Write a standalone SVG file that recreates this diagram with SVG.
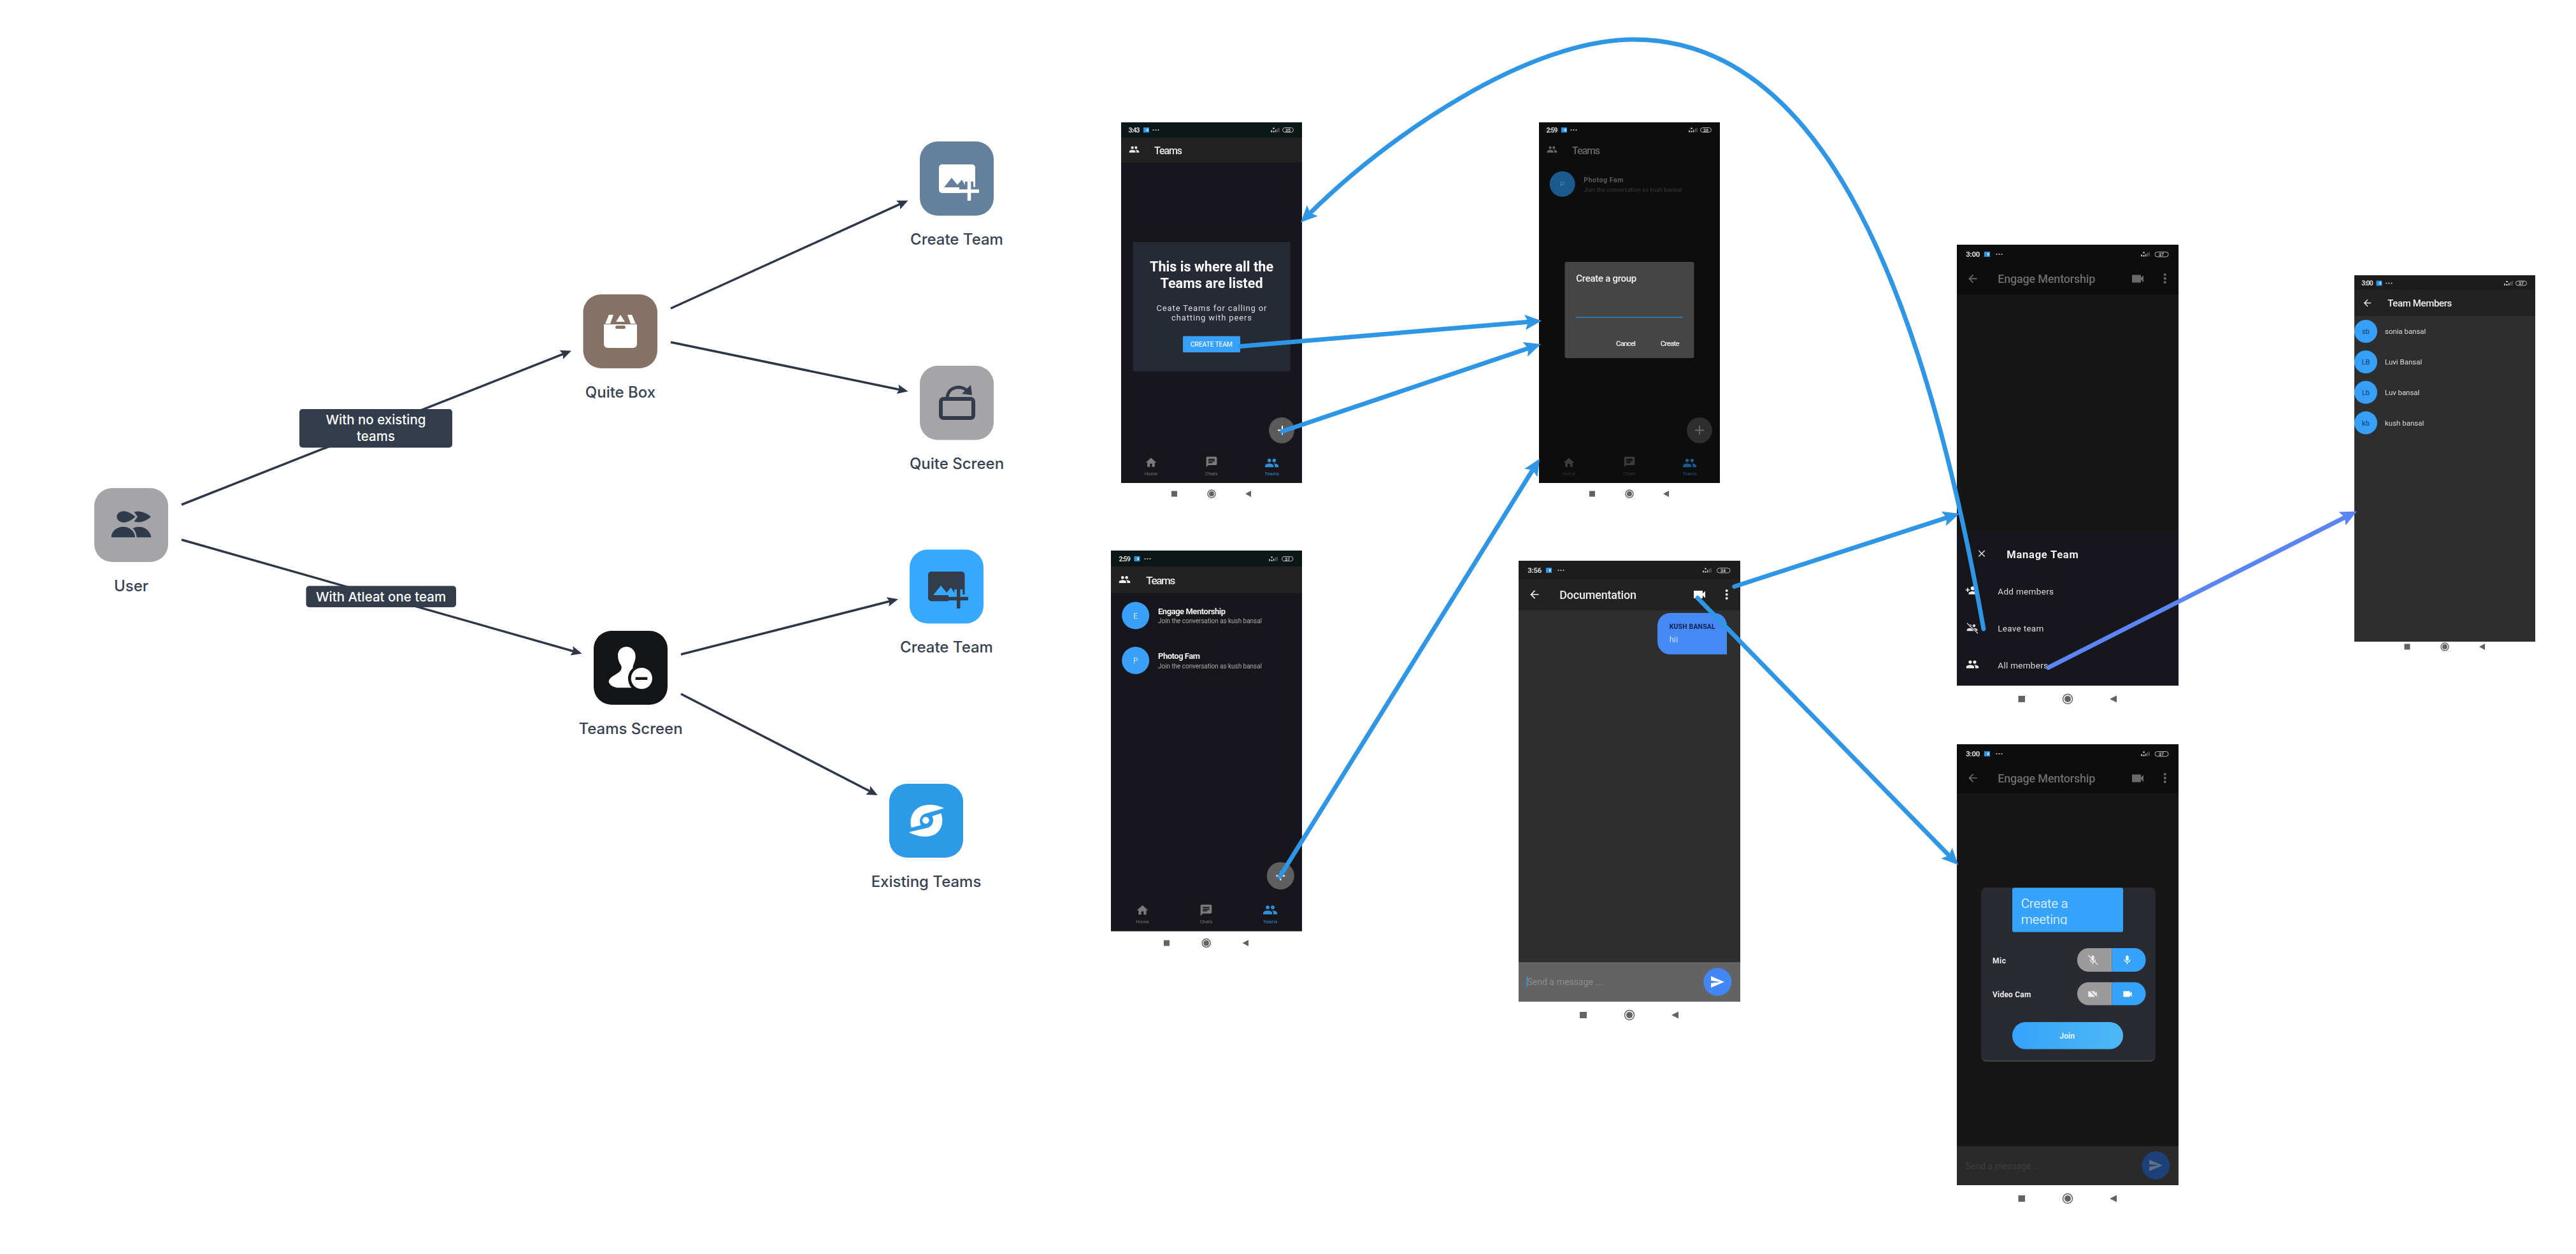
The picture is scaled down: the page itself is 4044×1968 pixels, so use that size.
<svg xmlns="http://www.w3.org/2000/svg" width="4044" height="1968" viewBox="0 0 4044 1968">
<style>
text{font-family:Roboto,"Liberation Sans",sans-serif}
.lbl{font-family:Inter,"Liberation Sans",sans-serif;font-size:24px;font-weight:500;fill:#374151;text-anchor:middle}
.tag{font-family:Inter,"Liberation Sans",sans-serif;font-size:20.500px;font-weight:500;fill:#fff;text-anchor:middle}
.dk{fill:none;stroke:#2d3748;stroke-width:3.5;marker-end:url(#mDark)}
.bl{fill:none;stroke:#2f96e6;stroke-width:7;stroke-linecap:round;marker-end:url(#mBlue)}
.pr{fill:none;stroke:#5b84f5;stroke-width:7;stroke-linecap:round;marker-end:url(#mPeri)}
.nv{fill:#646464}
.nvc{fill:none;stroke:#646464;stroke-width:1.5}
.t{font-weight:700;font-size:10.5px;fill:#ddd}
.bt{font-size:7px;font-weight:700;fill:#ccc;text-anchor:middle}
.bat{fill:none;stroke:#bbb;stroke-width:1}
.nl{font-size:7.5px;text-anchor:middle}
.sm{filter:url(#soft)}
</style>
<defs>
<filter id="soft" x="-5%" y="-5%" width="110%" height="110%"><feGaussianBlur stdDeviation="0.55"/></filter>
<marker id="mDark" markerUnits="userSpaceOnUse" markerWidth="20" markerHeight="18" refX="12" refY="9" orient="auto"><path d="M0,1.5 L17,9 L0,16.5 L3,9Z" fill="#2d3748"/></marker>
<marker id="mBlue" markerUnits="userSpaceOnUse" markerWidth="28" markerHeight="26" refX="14" refY="13" orient="auto"><path d="M0,1 L26,13 L0,25 L5,13Z" fill="#2f96e6"/></marker>
<marker id="mPeri" markerUnits="userSpaceOnUse" markerWidth="28" markerHeight="26" refX="14" refY="13" orient="auto"><path d="M0,1 L26,13 L0,25 L5,13Z" fill="#5b84f5"/></marker>
<symbol id="people" viewBox="0 0 24 24"><path fill="currentColor" d="M16 11c1.66 0 2.99-1.34 2.99-3S17.66 5 16 5c-1.66 0-3 1.34-3 3s1.34 3 3 3zm-8 0c1.66 0 2.99-1.34 2.99-3S9.66 5 8 5C6.34 5 5 6.34 5 8s1.34 3 3 3zm0 2c-2.33 0-7 1.17-7 3.5V19h14v-2.5c0-2.33-4.67-3.5-7-3.5zm8 0c-.29 0-.62.02-.97.05 1.16.84 1.97 1.97 1.97 3.45V19h6v-2.5c0-2.33-4.67-3.5-7-3.5z"/></symbol>
<symbol id="home" viewBox="0 0 24 24"><path fill="currentColor" d="M10 20v-6h4v6h5v-8h3L12 3 2 12h3v8z"/></symbol>
<symbol id="chat" viewBox="0 0 24 24"><path fill="currentColor" fill-rule="evenodd" d="M20 2H4c-1.1 0-2 .9-2 2v18l4-4h14c1.1 0 2-.9 2-2V4c0-1.1-.9-2-2-2zM6 9h12v2H6V9zm8 5H6v-2h8v2zm4-6H6V6h12v2z"/></symbol>
<symbol id="video" viewBox="0 0 24 24"><path fill="currentColor" d="M17 10.5V7c0-.55-.45-1-1-1H4c-.55 0-1 .45-1 1v10c0 .55.45 1 1 1h12c.55 0 1-.45 1-1v-3.5l4 4v-11l-4 4z"/></symbol>
<symbol id="send" viewBox="0 0 24 24"><path fill="currentColor" d="M2.01 21L23 12 2.01 3 2 10l15 2-15 2z"/></symbol>
<symbol id="mic" viewBox="0 0 24 24"><path fill="currentColor" d="M12 14c1.66 0 3-1.34 3-3V5c0-1.66-1.34-3-3-3S9 3.34 9 5v6c0 1.66 1.34 3 3 3zm5.3-3c0 3-2.54 5.1-5.3 5.1S6.7 14 6.7 11H5c0 3.41 2.72 6.23 6 6.72V21h2v-3.28c3.28-.48 6-3.3 6-6.72h-1.7z"/></symbol>
<symbol id="back" viewBox="0 0 24 24"><path fill="currentColor" d="M20 11H7.83l5.59-5.59L12 4l-8 8 8 8 1.41-1.41L7.83 13H20v-2z"/></symbol>
<symbol id="close" viewBox="0 0 24 24"><path fill="currentColor" d="M19 6.41L17.59 5 12 10.59 6.41 5 5 6.41 10.59 12 5 17.59 6.41 19 12 13.41 17.59 19 19 17.59 13.41 12z"/></symbol>
<symbol id="padd" viewBox="0 0 24 24"><path fill="currentColor" d="M15 12c2.21 0 4-1.79 4-4s-1.79-4-4-4-4 1.79-4 4 1.79 4 4 4zm-9-2V7H4v3H1v2h3v3h2v-3h3v-2H6zm9 4c-2.67 0-8 1.34-8 4v2h16v-2c0-2.66-5.33-4-8-4z"/></symbol>
<g id="app"><rect width="9" height="8" fill="#2f96e6"/><rect x="5" y="2" width="2.5" height="4" fill="#bfe0ff"/></g>
<g id="dots" fill="#ccc"><circle cx="1.5" cy="0" r="1.1"/><circle cx="5.5" cy="0" r="1.1"/><circle cx="9.5" cy="0" r="1.1"/></g>
<g id="signal" fill="#bbb"><rect x="0" y="4" width="2" height="3"/><rect x="3" y="0" width="3" height="2"/><rect x="3" y="5" width="3" height="2"/><rect x="7" y="3" width="1.6" height="4"/><rect x="10" y="1" width="1.4" height="6" opacity=".5"/><rect x="12.4" y="0" width="1.2" height="7" opacity=".5"/></g>
<clipPath id="clipMeet"><rect x="3159" y="1393" width="174" height="58"/></clipPath>
<clipPath id="clipT1"><rect x="3261" y="1488" width="107.500" height="37" rx="18"/></clipPath>
<clipPath id="clipT2"><rect x="3261" y="1541.500" width="107.500" height="36" rx="18"/></clipPath>
<linearGradient id="gJoin" x1="0" x2="1" y1="0" y2="0"><stop offset="0" stop-color="#36a3fb"/><stop offset="1" stop-color="#4db8f5"/></linearGradient>
</defs>
<rect width="4044" height="1968" fill="#fff"/>

<g id="connectors-flow">
<path class="dk" d="M285,792 L892.300,552.400"/>
<path class="dk" d="M285,847 L908.800,1024.500"/>
<path class="dk" d="M1053,484 L1421,316.700"/>
<path class="dk" d="M1053,537 L1420.700,613.200"/>
<path class="dk" d="M1069,1027 L1405.100,941.500"/>
<path class="dk" d="M1069,1089 L1373.400,1245.700"/>
</g>

<g id="tag-no-teams"><rect x="470" y="642" width="240" height="60.500" rx="5" fill="#323c4b"/><text class="tag" x="590" y="666">With no existing</text><text class="tag" x="590" y="692">teams</text></g>
<g id="tag-one-team"><rect x="480.500" y="919.500" width="235.500" height="33.500" rx="5" fill="#323c4b"/><text class="tag" x="598" y="943.500">With Atleat one team</text></g>

<g id="node-user"><rect x="148" y="766" width="116" height="116" rx="28" fill="#a5a5a7"/>
<g fill="#2f3a4b" transform="translate(140,760) scale(.3333)"><path d="M130,153 C130,135 150,125 168,127 C185,130 205,142 217,153 C205,165 185,178 165,180 C148,181 130,170 130,153Z"/><path d="M212,131 C235,121 268,133 291,153 C268,174 235,185 212,175 L228,153Z"/><path d="M104,250 C104,220 130,200 160,200 C190,200 216,222 216,250Z"/><path d="M224,250 C222,232 215,215 205,208 C220,198 245,198 262,207 C280,217 291,235 292,250Z"/></g>
<text class="lbl" x="206" y="928">User</text></g>

<g id="node-quite-box"><rect x="915.500" y="462" width="116.500" height="116" rx="28" fill="#857265"/>
<path d="M948,509 h52 v31 a6,6 0 0 1 -6,6 h-40 a6,6 0 0 1 -6,-6Z" fill="#fff"/><path d="M950,508 L956,494 L963,494 L958,508Z M998,508 L992,494 L985,494 L990,508Z M967,505 L974,494 L981,505Z" fill="#fff"/><rect x="966" y="511" width="16" height="5" rx="2.500" fill="#857265"/>
<text class="lbl" x="974" y="624">Quite Box</text></g>

<g id="node-create-team-a"><rect x="1444" y="222" width="116" height="116.500" rx="28" fill="#64809a"/>
<rect x="1474" y="258" width="57" height="45" rx="5" fill="#fff"/><path d="M1482,294 L1494,279 L1503,290 L1510,282 L1517,294Z" fill="#64809a"/><path d="M1506,300 h31 M1521.500,285 v30" fill="none" stroke="#64809a" stroke-width="13"/><path d="M1506,300 h31 M1521.500,285 v30" fill="none" stroke="#fff" stroke-width="5.500"/>
<text class="lbl" x="1502" y="384">Create Team</text></g>

<g id="node-quite-screen"><rect x="1444" y="574" width="116" height="116.500" rx="28" fill="#a5a5a7"/>
<rect x="1477" y="626" width="51" height="30" rx="4" fill="none" stroke="#323c4b" stroke-width="6"/><path d="M1487,624 C1488,606 1510,604 1518,613" fill="none" stroke="#323c4b" stroke-width="5"/><path d="M1510,618 L1526,620 L1524,604Z" fill="#323c4b"/>
<text class="lbl" x="1502" y="736">Quite Screen</text></g>

<g id="node-teams-screen"><rect x="932" y="990" width="116" height="116" rx="28" fill="#141516"/>
<g transform="translate(925,985) scale(.3333)"><path fill="#fff" d="M135,130 C135,105 155,90 175,90 C200,90 218,110 218,135 C218,160 205,175 205,192 C195,198 185,215 183,235 C183,255 190,275 200,283 L140,283 C115,283 95,270 92,255 C92,235 120,225 140,210 C152,200 155,190 150,178 C140,165 135,150 135,130Z"/><circle cx="247" cy="239" r="62" fill="#141516"/><circle cx="247" cy="239" r="50" fill="#fff"/><rect x="218" y="233" width="56" height="13" fill="#141516"/></g>
<text class="lbl" x="990" y="1152">Teams Screen</text></g>

<g id="node-create-team-b"><rect x="1428" y="862.500" width="116" height="116" rx="28" fill="#38a8ff"/>
<rect x="1457" y="897" width="57.500" height="46.500" rx="5" fill="#323c4b"/><path d="M1465,934 L1477,919 L1486,930 L1493,922 L1500,934Z" fill="#38a8ff"/><path d="M1489,939.600 h31 M1504.700,925 v30" fill="none" stroke="#38a8ff" stroke-width="13"/><path d="M1489,939.600 h31 M1504.700,925 v30" fill="none" stroke="#323c4b" stroke-width="5.500"/>
<text class="lbl" x="1486" y="1024">Create Team</text></g>

<g id="node-existing-teams"><rect x="1396" y="1230" width="116" height="116" rx="28" fill="#2d9ae8"/>
<g fill="#fff" transform="translate(1390,1225) scale(.3333)"><path d="M276,130 C240,112 190,108 160,125 C125,143 112,185 122,222 L168,210 C155,190 165,165 185,157Z"/><path d="M110,243 C150,265 200,272 235,252 C268,232 275,190 262,154 L220,168 C232,190 222,215 200,222Z"/><circle cx="190" cy="187" r="16"/></g>
<text class="lbl" x="1454" y="1392">Existing Teams</text></g>

<g id="screen-teams-empty" class="sm">
<rect x="1760" y="192" width="284" height="566" fill="#18191a"/><rect x="1760" y="192" width="284" height="24" fill="#111213"/><rect x="1760" y="216" width="284" height="39" fill="#212224"/>
<text class="t" x="1771.500" y="207.500" textLength="18">3:43</text><use href="#app" x="1795" y="200"/><use href="#dots" x="1809" y="204"/><use href="#signal" x="1995" y="200.500"/><rect class="bat" x="2013.500" y="200.500" width="17" height="7" rx="3.500"/><text class="bt" x="2022" y="206.500">35</text>
<use href="#people" x="1772" y="226" width="17" height="17" color="#e8e8e8"/><text x="1812" y="241.500" font-size="16" font-weight="500" fill="#e8e8e8" textLength="44">Teams</text>
<rect x="1778.500" y="380" width="247" height="202.500" fill="#272b35"/>
<text x="1902" y="426" font-size="21.500" font-weight="700" fill="#fff" text-anchor="middle" textLength="194">This is where all the</text><text x="1902" y="451.500" font-size="21.500" font-weight="700" fill="#fff" text-anchor="middle" textLength="161">Teams are listed</text>
<text x="1902" y="487.500" font-size="13" fill="#ddd" text-anchor="middle" textLength="173">Ceate Teams for calling or</text><text x="1902" y="502.500" font-size="13" fill="#ddd" text-anchor="middle" textLength="126">chatting with peers</text>
<rect x="1857" y="527.500" width="90" height="25.500" rx="1" fill="#36a0f5"/><text x="1902" y="544" font-size="10.500" font-weight="500" fill="#e5f3ff" text-anchor="middle" textLength="66">CREATE TEAM</text>
<ellipse cx="2012" cy="675.300" rx="20" ry="20.400" fill="#5a5a5a"/><path d="M2006,675.300 h14 M2013,668.300 v14" stroke="#fff" stroke-width="2"/>
<use href="#home" x="1797" y="716" width="20" height="20" color="#7a7a7a"/><text class="nl" x="1807" y="745.500" fill="#777">Home</text>
<use href="#chat" x="1892" y="715" width="20" height="20" color="#7a7a7a"/><text class="nl" x="1902" y="745.500" fill="#777">Chats</text>
<use href="#people" x="1985" y="715" width="23" height="23" color="#2f8fd8"/><text class="nl" x="1996.700" y="745.500" fill="#2f8fd8">Teams</text>
<rect class="nv" x="1839" y="770.500" width="9" height="9"/><circle class="nvc" cx="1902" cy="775" r="6"/><circle class="nv" cx="1902" cy="775" r="4"/><path class="nv" d="M1955,775 L1964,770 V780Z"/>
</g>

<g id="screen-create-group" class="sm">
<rect x="2416" y="192" width="284" height="566" fill="#0a0a0b"/><rect x="2416" y="216" width="284" height="39" fill="#101011"/>
<text class="t" x="2427.500" y="207.500" textLength="18">2:59</text><use href="#app" x="2451" y="200"/><use href="#dots" x="2465" y="204"/><use href="#signal" x="2651" y="200.500"/><rect class="bat" x="2669.500" y="200.500" width="17" height="7" rx="3.500"/><text class="bt" x="2678" y="206.500">36</text>
<use href="#people" x="2428" y="226" width="17" height="17" color="#666"/><text x="2468" y="241.500" font-size="16" font-weight="500" fill="#666" textLength="44">Teams</text>
<ellipse cx="2452.700" cy="288.800" rx="20" ry="20" fill="#1b5a8e"/><text x="2452.700" y="293" font-size="11" fill="#4a87b5" text-anchor="middle">P</text>
<text x="2486.300" y="286" font-size="10.500" font-weight="700" fill="#5e5e5e" textLength="62">Photog Fam</text><text x="2486.300" y="300.500" font-size="9.500" fill="#3f3f3f" textLength="154">Join the conversation as kush bansal</text>
<rect x="2456.500" y="411" width="203" height="151" rx="3" fill="#444"/><text x="2474.300" y="442" font-size="15" font-weight="500" fill="#f2f2f2" textLength="95">Create a group</text><rect x="2474" y="497.300" width="168" height="1.500" fill="#2f86d0"/>
<text x="2537" y="542.700" font-size="11.500" font-weight="500" fill="#eee" textLength="31">Cancel</text><text x="2606.700" y="542.700" font-size="11.500" font-weight="500" fill="#eee" textLength="30">Create</text>
<ellipse cx="2668" cy="675.300" rx="20" ry="20.400" fill="#2e2e2e"/><path d="M2661,675.300 h14 M2668,668.300 v14" stroke="#666" stroke-width="2"/>
<use href="#home" x="2453" y="716" width="20" height="20" color="#3a3a3a"/><text class="nl" x="2463" y="745.500" fill="#3a3a3a">Home</text>
<use href="#chat" x="2548" y="715" width="20" height="20" color="#3a3a3a"/><text class="nl" x="2558" y="745.500" fill="#3a3a3a">Chats</text>
<use href="#people" x="2641" y="715" width="23" height="23" color="#1d5a8a"/><text class="nl" x="2652.700" y="745.500" fill="#1d5a8a">Teams</text>
<rect class="nv" x="2495" y="770.500" width="9" height="9"/><circle class="nvc" cx="2558" cy="775" r="6"/><circle class="nv" cx="2558" cy="775" r="4"/><path class="nv" d="M2611,775 L2620,770 V780Z"/>
</g>

<g id="screen-teams-list" class="sm">
<rect x="1744" y="864" width="300" height="597.500" fill="#18191a"/><rect x="1744" y="864" width="300" height="25" fill="#111213"/><rect x="1744" y="889" width="300" height="42" fill="#212224"/>
<text class="t" x="1756.500" y="881" textLength="18.500">2:59</text><use href="#app" x="1780.500" y="873"/><use href="#dots" x="1796" y="877"/><use href="#signal" x="1992" y="873.500"/><rect class="bat" x="2012.500" y="873.500" width="17.500" height="7" rx="3.500"/><text class="bt" x="2021" y="879.500">37</text>
<use href="#people" x="1756" y="900" width="19" height="19" color="#eee"/><text x="1799.300" y="916.500" font-size="17" font-weight="500" fill="#e8e8e8" textLength="46">Teams</text>
<ellipse cx="1782.700" cy="966" rx="21.500" ry="21.500" fill="#38a0f8"/><text x="1782.700" y="970.500" font-size="12" fill="#cfe6ff" text-anchor="middle">E</text>
<text x="1818" y="963.600" font-size="13" font-weight="700" fill="#eee" textLength="106">Engage Mentorship</text><text x="1818" y="978.400" font-size="10" fill="#aaa" textLength="163">Join the conversation as kush bansal</text>
<ellipse cx="1782.700" cy="1036.500" rx="21.500" ry="21.500" fill="#38a0f8"/><text x="1782.700" y="1041" font-size="12" fill="#cfe6ff" text-anchor="middle">P</text>
<text x="1818" y="1034" font-size="13" font-weight="700" fill="#eee" textLength="66">Photog Fam</text><text x="1818" y="1049" font-size="10" fill="#aaa" textLength="163">Join the conversation as kush bansal</text>
<ellipse cx="2010.300" cy="1374.400" rx="21.500" ry="21.500" fill="#5e5e5e"/><path d="M2003.300,1374.400 h14 M2010.300,1367.400 v14" stroke="#fff" stroke-width="2"/>
<use href="#home" x="1783" y="1418" width="21" height="21" color="#7a7a7a"/><text class="nl" x="1793.700" y="1449" fill="#777">Home</text>
<use href="#chat" x="1883" y="1418" width="21" height="21" color="#7a7a7a"/><text class="nl" x="1893.700" y="1449" fill="#777">Chats</text>
<use href="#people" x="1982" y="1416" width="24" height="24" color="#2f8fd8"/><text class="nl" x="1994" y="1449" fill="#2f8fd8">Teams</text>
<rect class="nv" x="1827" y="1475.500" width="9" height="9"/><circle class="nvc" cx="1893.700" cy="1480" r="6.500"/><circle class="nv" cx="1893.700" cy="1480" r="4.500"/><path class="nv" d="M1950.500,1480 L1960,1475 V1485Z"/>
</g>

<g id="screen-documentation" class="sm">
<rect x="2384" y="880" width="348" height="692" fill="#2f2f2f"/><rect x="2384" y="880" width="348" height="29" fill="#1a1a1b"/><rect x="2384" y="909" width="348" height="48.500" fill="#202021"/>
<text class="t" x="2398.300" y="899" textLength="22" style="font-size:11.500px">3:56</text><use href="#app" x="2427" y="891"/><use href="#dots" x="2445" y="895"/><use href="#signal" x="2673" y="891.500"/><rect class="bat" x="2695.500" y="891.500" width="20.500" height="7.500" rx="3.700"/><text class="bt" x="2705" y="898">34</text>
<use href="#back" x="2399" y="923" width="20" height="20" color="#eee"/><text x="2448.300" y="939.800" font-size="18" font-weight="500" fill="#eee" textLength="120.700">Documentation</text>
<use href="#video" x="2656" y="921" width="24" height="24" color="#fff"/><g fill="#eee"><circle cx="2710.700" cy="927" r="2"/><circle cx="2710.700" cy="933" r="2"/><circle cx="2710.700" cy="939" r="2"/></g>
<path d="M2622,962 h69 a20,20 0 0 1 20,20 v45 h-89 a20,20 0 0 1 -20,-20 v-25 a20,20 0 0 1 20,-20Z" fill="#4489f5"/><text x="2620.700" y="987" font-size="10.500" font-weight="700" fill="#0d2150" textLength="72">KUSH BANSAL</text><text x="2620.700" y="1008" font-size="13" fill="#cfe0ff" textLength="13.500">hii</text>
<rect x="2384" y="1510" width="348" height="62" fill="#636363"/><text x="2397.300" y="1545.800" font-size="14" fill="#8e8e8e" textLength="118.700">Send a message ...</text><rect x="2396.500" y="1532" width="1.500" height="17" fill="#2f96e6"/>
<circle cx="2696.300" cy="1541" r="22" fill="#4287f5"/><use href="#send" x="2684" y="1529" width="24" height="24" color="#fff"/>
<rect class="nv" x="2480" y="1588" width="11" height="10"/><circle class="nvc" cx="2558" cy="1593" r="7.500"/><circle class="nv" cx="2558" cy="1593" r="5"/><path class="nv" d="M2624,1593 L2635,1587.500 V1598.500Z"/>
</g>

<g id="screen-manage-team" class="sm">
<rect x="3072" y="384" width="348" height="692" fill="#161718"/><rect x="3072" y="384" width="348" height="30" fill="#0c0c0d"/><rect x="3072" y="414" width="348" height="48" fill="#0f0f10"/><rect x="3072" y="835" width="348" height="241" fill="#18191b"/>
<text class="t" x="3086.300" y="403" textLength="22" style="font-size:11.500px">3:00</text><use href="#app" x="3115" y="395"/><use href="#dots" x="3133" y="399"/><use href="#signal" x="3361" y="395.500"/><rect class="bat" x="3383" y="395.500" width="21" height="7.500" rx="3.700"/><text class="bt" x="3393" y="402">37</text>
<use href="#back" x="3087" y="427.400" width="20" height="20" color="#6e6e6e"/><text x="3136.300" y="444" font-size="18" font-weight="500" fill="#6e6e6e" textLength="153">Engage Mentorship</text>
<use href="#video" x="3344" y="425.500" width="24" height="24" color="#6a6a6a"/><g fill="#6a6a6a"><circle cx="3398.700" cy="431" r="2"/><circle cx="3398.700" cy="437" r="2"/><circle cx="3398.700" cy="443" r="2"/></g>
<use href="#close" x="3102" y="859.800" width="18" height="18" color="#ddd"/><text x="3150.300" y="875.600" font-size="16.500" font-weight="700" fill="#f2f2f2" textLength="112.400">Manage Team</text>
<use href="#padd" x="3085" y="917" width="19" height="19" color="#eee"/><text x="3136.300" y="933" font-size="13.500" fill="#ddd" textLength="87.700">Add members</text>
<use href="#people" x="3087" y="976" width="18" height="18" color="#ddd"/><path d="M3088,978 L3105,994" stroke="#18191b" stroke-width="3"/><path d="M3088,978 L3105,994" stroke="#ddd" stroke-width="1.200"/><text x="3136.300" y="991" font-size="13.500" fill="#ddd" textLength="72">Leave team</text>
<use href="#people" x="3086" y="1032" width="21" height="21" color="#eee"/><text x="3136.300" y="1048.600" font-size="13.500" fill="#ddd" textLength="78.700">All members</text>
<rect class="nv" x="3168.500" y="1092" width="10.500" height="10"/><circle class="nvc" cx="3246" cy="1097" r="7.500"/><circle class="nv" cx="3246" cy="1097" r="5"/><path class="nv" d="M3312,1097 L3323,1091.500 V1102.500Z"/>
</g>

<g id="screen-create-meeting" class="sm">
<rect x="3072" y="1168" width="348" height="692" fill="#161718"/><rect x="3072" y="1168" width="348" height="29" fill="#0c0c0d"/><rect x="3072" y="1197" width="348" height="48.500" fill="#0f0f10"/>
<text class="t" x="3086.300" y="1187" textLength="22" style="font-size:11.500px">3:00</text><use href="#app" x="3115" y="1179"/><use href="#dots" x="3133" y="1183"/><use href="#signal" x="3361" y="1179.500"/><rect class="bat" x="3383" y="1179.500" width="21" height="7.500" rx="3.700"/><text class="bt" x="3393" y="1186">37</text>
<use href="#back" x="3087" y="1211" width="20" height="20" color="#6e6e6e"/><text x="3136.300" y="1228" font-size="18" font-weight="500" fill="#6e6e6e" textLength="153">Engage Mentorship</text>
<use href="#video" x="3344" y="1209.500" width="24" height="24" color="#6a6a6a"/><g fill="#6a6a6a"><circle cx="3398.700" cy="1215" r="2"/><circle cx="3398.700" cy="1221" r="2"/><circle cx="3398.700" cy="1227" r="2"/></g>
<rect x="3110.500" y="1395" width="273" height="271" rx="8" fill="#444"/><rect x="3110.500" y="1393" width="273" height="271" rx="8" fill="#292c33"/>
<rect x="3159" y="1393.300" width="174" height="69.500" rx="3" fill="#36a3fb"/>
<g clip-path="url(#clipMeet)"><text x="3172.700" y="1425" font-size="21" fill="#cfe8ff" textLength="74.300">Create a</text><text x="3172.700" y="1449.600" font-size="21" fill="#cfe8ff" textLength="73">meeting</text></g>
<text x="3128" y="1512" font-size="12" font-weight="700" fill="#eee" textLength="21">Mic</text><text x="3128" y="1565" font-size="12" font-weight="700" fill="#eee" textLength="60.300">Video Cam</text>
<g clip-path="url(#clipT1)"><rect x="3261" y="1488" width="54.300" height="37" fill="#9b9b9b"/><rect x="3315.300" y="1488" width="54" height="37" fill="#36a3fb"/></g>
<g clip-path="url(#clipT2)"><rect x="3261" y="1541" width="54.300" height="37" fill="#9b9b9b"/><rect x="3315.300" y="1541" width="54" height="37" fill="#36a3fb"/></g>
<use href="#mic" x="3277" y="1498" width="17" height="17" color="#eee"/><path d="M3278,1499 L3293,1514" stroke="#eee" stroke-width="1.300"/><use href="#mic" x="3331" y="1498" width="17" height="17" color="#fff"/>
<use href="#video" x="3276" y="1551" width="18" height="18" color="#eee"/><path d="M3278,1552 L3293,1567" stroke="#9b9b9b" stroke-width="1.500"/><use href="#video" x="3331" y="1551" width="18" height="18" color="#fff"/>
<rect x="3159" y="1604" width="174" height="42.500" rx="21" fill="url(#gJoin)"/><text x="3245.300" y="1630.400" font-size="12.500" font-weight="700" fill="#e8f4ff" text-anchor="middle" textLength="24">Join</text>
<rect x="3072" y="1798.600" width="348" height="61.400" fill="#2c2c2c"/><text x="3085.700" y="1834.500" font-size="14" fill="#3d3d3d" textLength="117.600">Send a message ...</text>
<circle cx="3384.300" cy="1829" r="22" fill="#1c3f78"/><use href="#send" x="3372" y="1817" width="24" height="24" color="#5f6f88"/>
<rect class="nv" x="3168.500" y="1876" width="10.500" height="10"/><circle class="nvc" cx="3246" cy="1881" r="7.500"/><circle class="nv" cx="3246" cy="1881" r="5"/><path class="nv" d="M3312,1881 L3323,1875.500 V1886.500Z"/>
</g>

<g id="screen-team-members" class="sm">
<rect x="3696" y="432" width="284" height="575" fill="#2f2f2f"/><rect x="3696" y="432" width="284" height="23" fill="#1a1a1b"/><rect x="3696" y="455" width="284" height="41" fill="#212224"/>
<text class="t" x="3707.300" y="448" textLength="18.400">3:00</text><use href="#app" x="3730.500" y="440.500"/><use href="#dots" x="3745" y="444.500"/><use href="#signal" x="3931" y="441"/><rect class="bat" x="3949.500" y="441" width="17" height="7" rx="3.500"/><text class="bt" x="3958" y="447">37</text>
<use href="#back" x="3708" y="467" width="17" height="17" color="#eee"/><text x="3748.300" y="480.500" font-size="15" font-weight="500" fill="#eee" textLength="101">Team Members</text>
<ellipse cx="3714" cy="520" rx="18" ry="18" fill="#36a0f5"/><text x="3714" y="524" font-size="11" fill="#10346e" text-anchor="middle">sb</text><text x="3744" y="524.400" font-size="11.500" fill="#ddd" textLength="64.300">sonia bansal</text>
<ellipse cx="3714" cy="568" rx="18" ry="18" fill="#36a0f5"/><text x="3714" y="572" font-size="11" fill="#10346e" text-anchor="middle">LB</text><text x="3744" y="572.400" font-size="11.500" fill="#ddd" textLength="58.300">Luvi Bansal</text>
<ellipse cx="3714" cy="615.700" rx="18" ry="18" fill="#36a0f5"/><text x="3714" y="619.700" font-size="11" fill="#10346e" text-anchor="middle">Lb</text><text x="3744" y="620" font-size="11.500" fill="#ddd" textLength="54.300">Luv bansal</text>
<ellipse cx="3714" cy="663.600" rx="18" ry="18" fill="#36a0f5"/><text x="3714" y="667.600" font-size="11" fill="#10346e" text-anchor="middle">kb</text><text x="3744" y="668" font-size="11.500" fill="#ddd" textLength="61.300">kush bansal</text>
<rect class="nv" x="3774.500" y="1010.500" width="9" height="9"/><circle class="nvc" cx="3838" cy="1015" r="6"/><circle class="nv" cx="3838" cy="1015" r="4"/><path class="nv" d="M3892,1015 L3901,1010 V1020Z"/>
</g>

<g id="connectors-screens">
<path class="bl" d="M1947,543.500 L2408,504.500"/>
<path class="bl" d="M2013,677 L2407.600,543.800"/>
<path class="bl" d="M2009,1376 L2410.700,730.200"/>
<path class="bl" d="M2722.700,920.500 L3064.600,809.700"/>
<path class="bl" d="M2665,938.400 L3065.900,1348.900"/>
<path class="pr" d="M3215.700,1047.700 L3689.300,807.800"/>
<path class="bl" d="M3114,987 C3010,400 2840,62 2565,62 C2400,62 2180,211 2050.500,340.500"/>
</g>
</svg>
